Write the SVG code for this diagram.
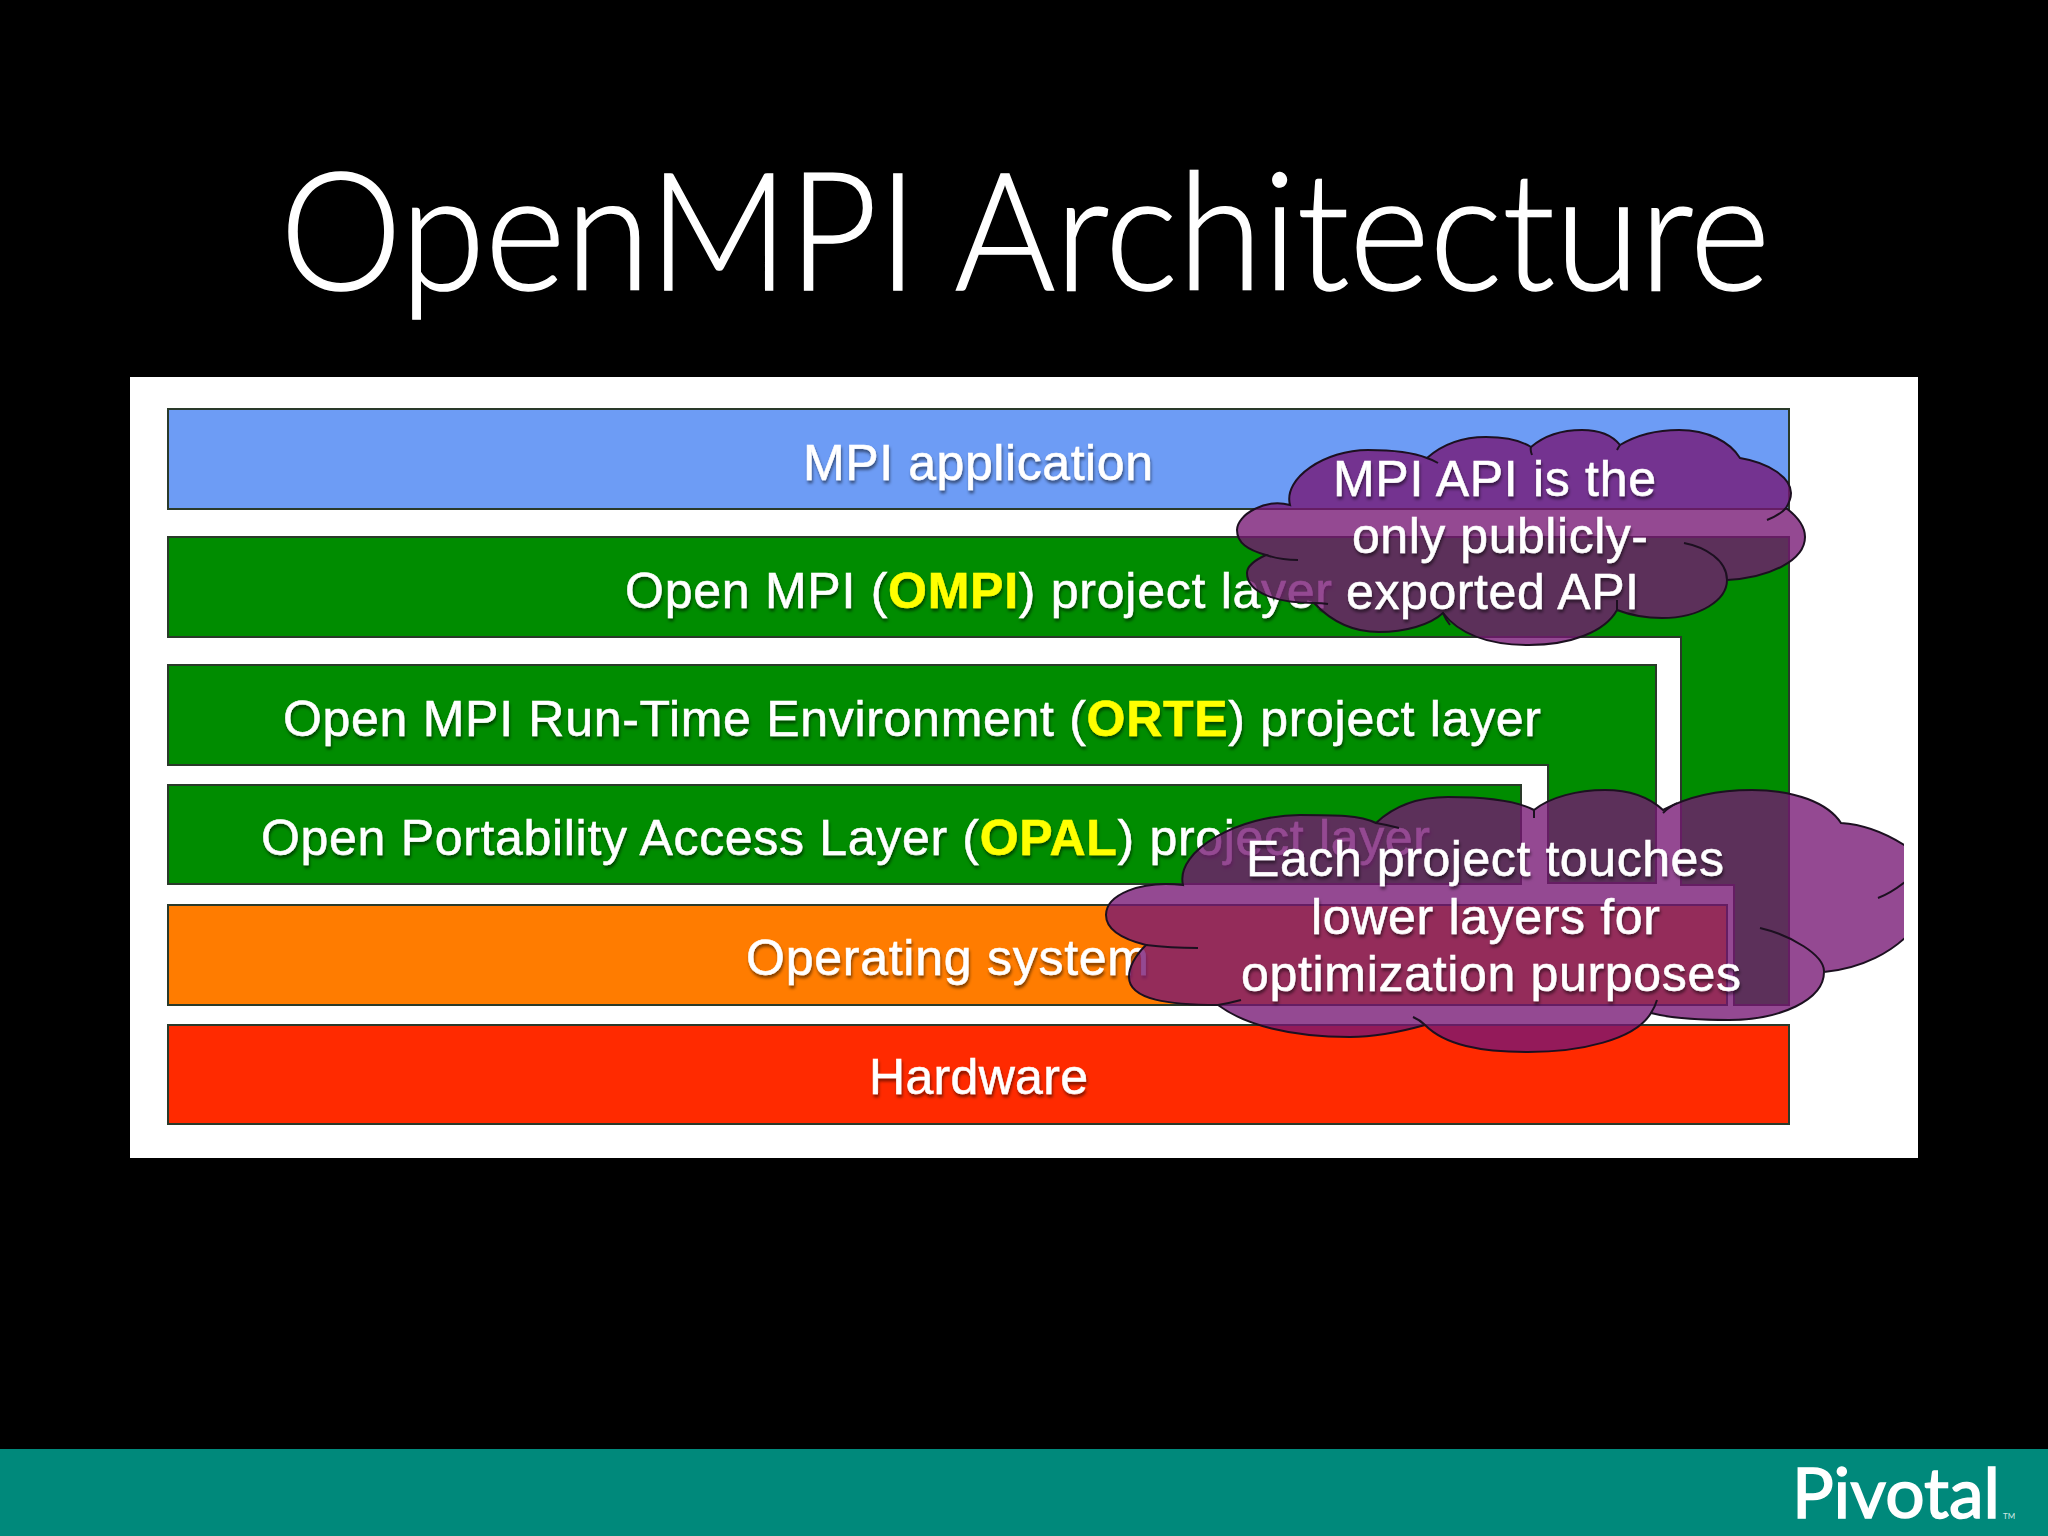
<svg xmlns="http://www.w3.org/2000/svg" width="2048" height="1536" viewBox="0 0 2048 1536">
<defs>
<filter id="shadow" x="-5%" y="-30%" width="110%" height="170%"><feGaussianBlur in="SourceGraphic" stdDeviation="0.6" result="s"/><feDropShadow in="s" dx="1" dy="3" stdDeviation="1.6" flood-color="#000" flood-opacity="0.5"/></filter>
<clipPath id="panelclip"><rect x="130" y="377" width="1774" height="781"/></clipPath>
</defs>
<style>
.layer{stroke:#2a3a2a;stroke-width:2}
.t{font-family:"Liberation Sans",Arial,sans-serif;font-size:50px;fill:#fff;stroke:#fff;stroke-width:.5;filter:url(#shadow)}
.y{font-weight:bold;fill:#ffff00;stroke:#ffff00}
.cloud{fill:#761673;fill-opacity:.78;stroke:#1c1020;stroke-width:2}
.tail{fill:none;stroke:#1c1020;stroke-width:2}
</style>
<rect width="2048" height="1536" fill="#000"/>
<text x="280" y="290" font-family="Lato,'Open Sans',sans-serif" font-weight="300" font-size="164" fill="#fff" stroke="#fff" stroke-width="1.5" textLength="1490" lengthAdjust="spacingAndGlyphs">OpenMPI Architecture</text>
<rect id="panel" x="130" y="377" width="1788" height="781" fill="#fff"/>
<g id="mpi-application"><rect class="layer" x="168" y="409" width="1621" height="100" fill="#6d9cf5"/><text class="t" x="803" y="480" textLength="350">MPI application</text></g>
<g id="ompi"><path class="layer" d="M168 537H1789V1005H1734V885H1681V637H168Z" fill="#008c00"/><text class="t" x="625" y="608" textLength="707">Open MPI (<tspan class="y">OMPI</tspan>) project layer</text></g>
<g id="orte"><path class="layer" d="M168 665H1656V883H1548V765H168Z" fill="#008c00"/><text class="t" x="283" y="736" textLength="1258">Open MPI Run-Time Environment (<tspan class="y">ORTE</tspan>) project layer</text></g>
<g id="opal"><rect class="layer" x="168" y="785" width="1353" height="99" fill="#008c00"/><text class="t" x="261" y="855" textLength="1169">Open Portability Access Layer (<tspan class="y">OPAL</tspan>) project layer</text></g>
<g id="os"><rect class="layer" x="168" y="905" width="1559" height="100" fill="#ff7c00"/><text class="t" x="746" y="975" textLength="403">Operating system</text></g>
<g id="hardware"><rect class="layer" x="168" y="1025" width="1621" height="99" fill="#ff2a00"/><text class="t" x="869" y="1094" textLength="219">Hardware</text></g>
<g id="cloud-api">
<path class="cloud" d="M1290 505C1283 478 1325 450 1368 450C1392 450 1412 452 1427 458C1445 442 1465 437 1486 437C1505 437 1520 440 1531 447C1545 435 1562 430 1582 430C1598 430 1612 435 1620 445C1635 436 1655 430 1679 430C1708 430 1730 442 1740 458C1770 463 1791 478 1791 493C1791 498 1789 503 1786 508C1798 517 1805 527 1805 537C1805 560 1770 578 1727 580C1727 600 1700 618 1662 618C1645 618 1630 615 1617 610C1605 632 1570 645 1529 645C1490 645 1460 635 1443 613C1430 625 1405 632 1379 632C1350 632 1330 620 1314 603C1275 603 1247 592 1247 573C1247 566 1255 560 1266 555C1248 550 1237 543 1237 530C1237 515 1265 498 1290 505Z"/>
<path class="tail" d="M1427 458Q1433 460 1438 463M1531 447Q1530 450 1532 455M1620 445Q1618 448 1617 450M1786 508Q1780 515 1767 520M1684 543C1705 547 1727 560 1727 580M1266 555Q1280 560 1298 560M1314 603Q1322 603 1328 604M1443 613Q1446 620 1450 625M1617 610Q1617 605 1617 600"/>
<text class="t" x="1333" y="496" textLength="323">MPI API is the</text>
<text class="t" x="1352" y="553" textLength="296">only publicly-</text>
<text class="t" x="1346" y="609" textLength="293">exported API</text>
</g>
<g id="cloud-touch">
<g clip-path="url(#panelclip)">
<path class="cloud" d="M1183 885C1175 850 1240 815 1300 815C1335 815 1360 815 1376 823C1395 805 1420 797 1448 797C1485 797 1515 800 1534 810C1550 797 1578 790 1605 790C1630 790 1650 798 1663 810C1685 798 1715 790 1752 790C1795 790 1828 803 1841 823C1875 825 1904 843 1925 860C1950 905 1900 965 1824 972C1824 1000 1780 1020 1729 1020C1700 1020 1670 1018 1651 1013C1635 1040 1580 1052 1528 1052C1480 1052 1445 1045 1425 1025C1400 1032 1375 1037 1350 1037C1290 1037 1245 1025 1218 1005C1170 1005 1129 1000 1129 977C1129 965 1136 955 1146 945C1118 938 1106 928 1106 915C1106 895 1140 880 1183 885Z"/>
<path class="tail" d="M1146 945Q1170 948 1198 948M1760 928C1790 935 1825 955 1824 972M1878 898Q1892 893 1910 878M1218 1005Q1230 1003 1241 1000M1413 1017Q1420 1020 1425 1025M1657 1000Q1655 1007 1651 1013M1534 818V810M1663 813Q1668 808 1677 803M1376 823Q1388 825 1399 828"/>
</g>
<text class="t" x="1246" y="876" textLength="478">Each project touches</text>
<text class="t" x="1311" y="934" textLength="349">lower layers for</text>
<text class="t" x="1241" y="991" textLength="500">optimization purposes</text>
</g>
<g id="footer">
<rect x="0" y="1449" width="2048" height="87" fill="#00897b"/>
<text x="1792" y="1518" font-family="Lato,sans-serif" font-size="70" fill="#fff" stroke="#fff" stroke-width="1.5" textLength="208" lengthAdjust="spacingAndGlyphs">Pivotal</text>
<text x="2003" y="1519" font-family="Lato,sans-serif" font-size="8" fill="#cfe8e4">TM</text>
</g>
</svg>
